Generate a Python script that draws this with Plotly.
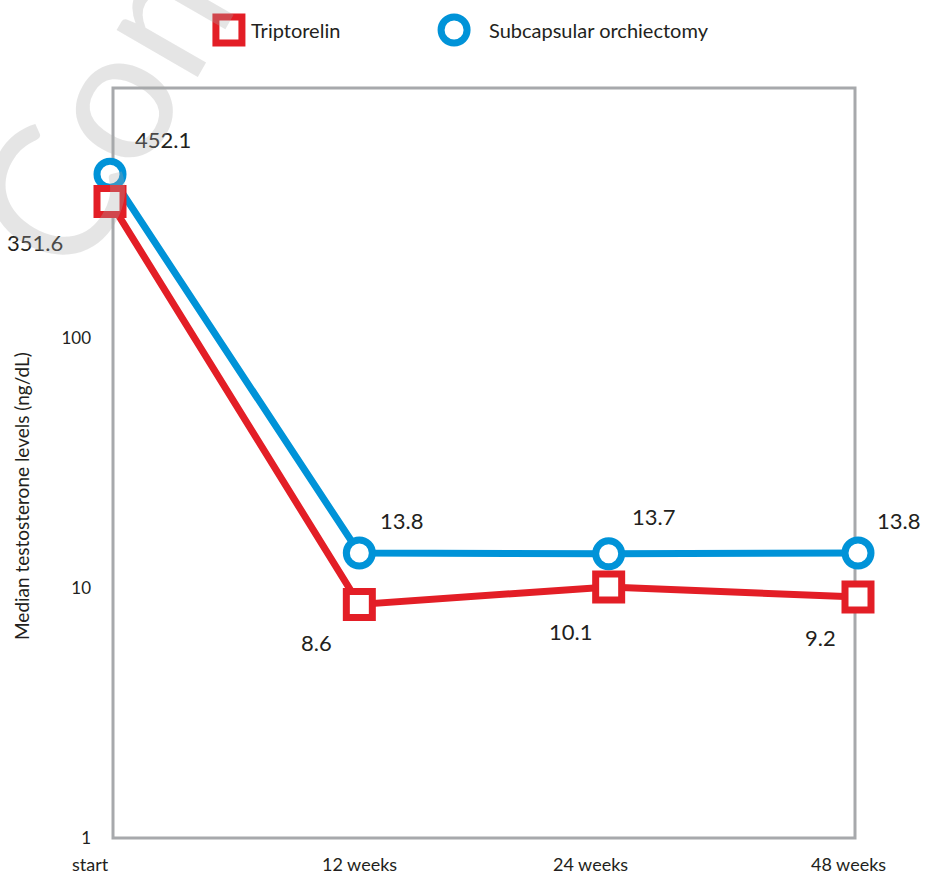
import math
import plotly.graph_objects as go

# Time points and median testosterone (ng/dL)
timepoints = ["start", "12 weeks", "24 weeks", "48 weeks"]
triptorelin = [351.6, 8.6, 10.1, 9.2]
orchiectomy = [452.1, 13.8, 13.7, 13.8]
y_ticks = [1, 10, 100]
y_tick_text = ["1", "10", "100"]

RED = "#e31e26"
BLUE = "#0093d8"
TEXT = "#231f20"
FRAME = "#a7a9ac"
FONT = "Lato, 'Open Sans', sans-serif"

x_pos = list(range(len(timepoints)))

fig = go.Figure()

fig.add_trace(go.Scatter(
    x=x_pos, y=orchiectomy, mode="lines+markers", name="Subcapsular orchiectomy",
    line=dict(color=BLUE, width=7),
    marker=dict(symbol="circle", size=26, color="white", line=dict(color=BLUE, width=7)),
    cliponaxis=False, showlegend=False,
))
fig.add_trace(go.Scatter(
    x=x_pos, y=triptorelin, mode="lines+markers", name="Triptorelin",
    line=dict(color=RED, width=7),
    marker=dict(symbol="square", size=26, color="white", line=dict(color=RED, width=7)),
    cliponaxis=False, showlegend=False,
))

# value labels: pixel offsets from each marker (annotations on a log axis take log10 y)
orch_offsets = [(53, -35), (42, -33), (45, -37), (40, -33)]
trip_offsets = [(-75, 41), (-43, 38), (-38, 45), (-38, 40)]

annotations = []
for series, offsets in ((orchiectomy, orch_offsets), (triptorelin, trip_offsets)):
    for xi, v, (dx, dy) in zip(x_pos, series, offsets):
        annotations.append(dict(x=xi, y=math.log10(v), xref="x", yref="y",
                                text=f"{v:.1f}", showarrow=False,
                                xshift=dx, yshift=-dy,
                                font=dict(size=22, color=TEXT, family=FONT)))

# category labels under the frame
label_shifts = [-20, 0, -18, -10]
for xi, lab, sx in zip(x_pos, timepoints, label_shifts):
    annotations.append(dict(x=xi, y=0, xref="x", yref="paper", text=lab,
                            showarrow=False, xshift=sx, yshift=-26, yanchor="middle",
                            font=dict(size=18, color=TEXT, family=FONT)))

# axis title
annotations.append(dict(x=-0.119, y=0.456, xref="paper", yref="paper",
                        text="Median testosterone levels (ng/dL)", textangle=-90,
                        xanchor="center", yanchor="middle",
                        showarrow=False, font=dict(size=19, color=TEXT, family=FONT)))

# legend entries
annotations.append(dict(x=0.186, y=1.0773, xref="paper", yref="paper", text="Triptorelin",
                        xanchor="left", yanchor="middle", showarrow=False,
                        font=dict(size=20, color=TEXT, family=FONT)))
annotations.append(dict(x=0.504, y=1.0773, xref="paper", yref="paper",
                        text="Subcapsular orchiectomy", xanchor="left", yanchor="middle",
                        showarrow=False, font=dict(size=20, color=TEXT, family=FONT)))

# faint watermark
annotations.append(dict(x=0.051, y=1.092, xref="paper", yref="paper", text="Comm",
                        textangle=-60, showarrow=False, xanchor="center", yanchor="middle",
                        font=dict(size=185, color="rgba(170,170,170,0.3)", family=FONT)))

shapes = [
    # plot frame, inset slightly from the outer data points
    dict(type="rect", xref="paper", yref="paper", xsizemode="pixel",
         xanchor=0, x0=3, x1=745, y0=0, y1=1, layer="below",
         line=dict(color=FRAME, width=3)),
    dict(type="rect", xref="paper", yref="paper", xsizemode="pixel", ysizemode="pixel",
         xanchor=0.159, yanchor=1.0773, x0=-13, x1=13, y0=-13, y1=13,
         line=dict(color=RED, width=7), fillcolor="white"),
    dict(type="circle", xref="paper", yref="paper", xsizemode="pixel", ysizemode="pixel",
         xanchor=0.460, yanchor=1.0773, x0=-13, x1=13, y0=-13, y1=13,
         line=dict(color=BLUE, width=7), fillcolor="white"),
]

fig.update_layout(
    width=925, height=876,
    margin=dict(l=110, r=67, t=88, b=38),
    paper_bgcolor="white", plot_bgcolor="white",
    font=dict(family=FONT, color=TEXT),
    annotations=annotations, shapes=shapes,
    xaxis=dict(range=[0, 3], showgrid=False, zeroline=False,
               showticklabels=False, ticks="", showline=False),
    yaxis=dict(type="log", range=[0, 3], showgrid=False, zeroline=False,
               tickvals=y_ticks, ticktext=y_tick_text, ticks="",
               ticklabelstandoff=18,
               tickfont=dict(size=17, color=TEXT, family=FONT),
               showline=False),
)

fig.write_html("out.html")
